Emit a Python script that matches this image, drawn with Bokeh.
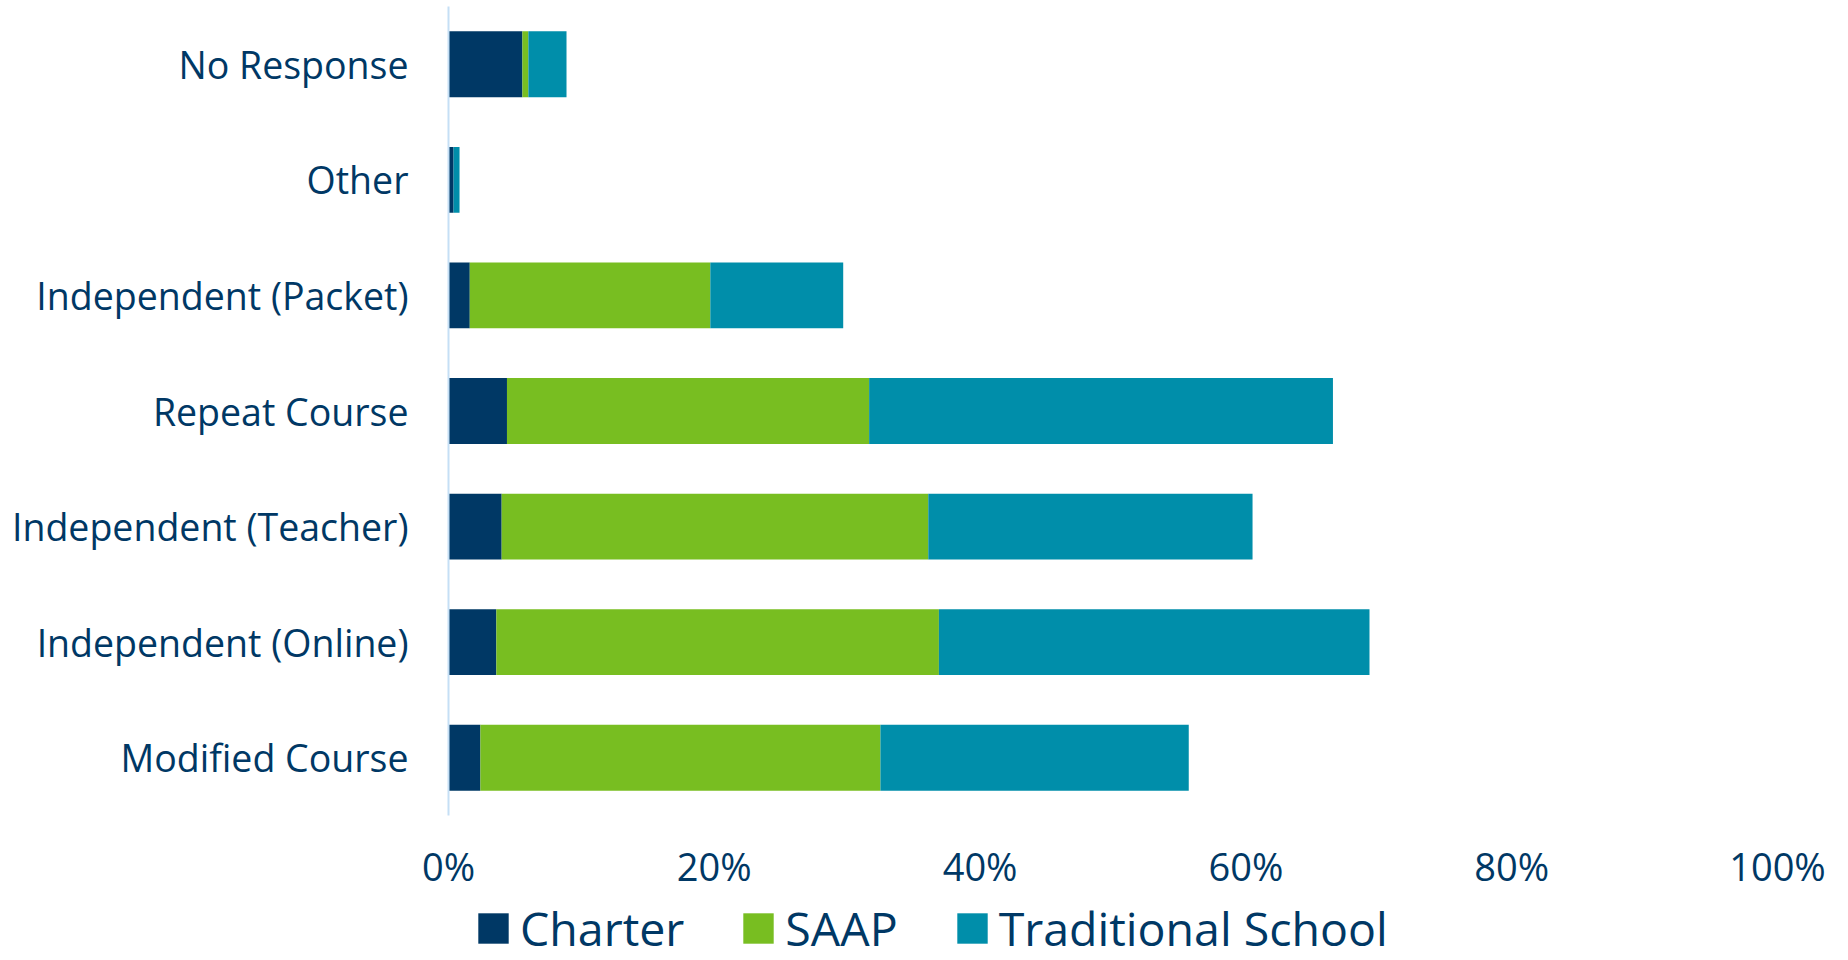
from bokeh.plotting import figure
from bokeh.models import (ColumnDataSource, FactorRange, Range1d, FixedTicker,
                          PrintfTickFormatter, Legend, LegendItem)
from bokeh.layouts import column
from bokeh.embed import file_html
from bokeh.resources import INLINE

# Categories listed bottom-to-top
categories = ["Modified Course", "Independent (Online)", "Independent (Teacher)",
              "Repeat Course", "Independent (Packet)", "Other", "No Response"]
series = ["Charter", "SAAP", "Traditional School"]
charter = [2.4, 3.6, 4.0, 4.4, 1.6, 0.38, 5.56]
saap = [30.1, 33.3, 32.1, 27.25, 18.1, 0.0, 0.45]
traditional = [23.2, 32.4, 24.4, 34.9, 10.0, 0.45, 2.87]
x_ticks = [0, 20, 40, 60, 80, 100]
colors = ["#003865", "#78BE21", "#008EAA"]

TEXT = "#003865"
FONT = "Open Sans"

source = ColumnDataSource(data={
    "cat": categories,
    "Charter": charter,
    "SAAP": saap,
    "Traditional School": traditional,
})

p = figure(width=1848, height=894, output_backend="svg", toolbar_location=None,
           y_range=FactorRange(factors=categories, range_padding=0),
           x_range=Range1d(0, 100),
           min_border_left=448, min_border_right=71, min_border_top=6,
           min_border_bottom=74)

renderers = p.hbar_stack(series, y="cat", height=0.57, color=colors,
                         line_color=None, source=source)

p.xgrid.visible = False
p.ygrid.visible = False
p.outline_line_color = None

xa = p.xaxis[0]
xa.ticker = FixedTicker(ticks=x_ticks)
xa.formatter = PrintfTickFormatter(format="%d%%")
xa.axis_line_color = None
xa.major_tick_line_color = None
xa.minor_tick_line_color = None
xa.major_tick_out = 0
xa.major_label_text_font = FONT
xa.major_label_text_font_size = "38px"
xa.major_label_text_color = TEXT
xa.major_label_standoff = 24

ya = p.yaxis[0]
ya.axis_line_color = "#C5DFF5"
ya.axis_line_width = 2
ya.major_tick_line_color = None
ya.minor_tick_line_color = None
ya.major_tick_out = 0
ya.major_label_text_font = FONT
ya.major_label_text_font_size = "37.5px"
ya.major_label_text_color = TEXT
ya.major_label_standoff = 40

# Legend strip below the chart (its frame is aligned with the chart's frame)
lg = figure(width=1848, height=66, output_backend="svg", toolbar_location=None,
            x_range=Range1d(0, 1), y_range=Range1d(0, 1),
            min_border_left=0, min_border_right=0, min_border_top=0,
            min_border_bottom=0)
lg.axis.visible = False
lg.grid.visible = False
lg.outline_line_color = None
# zero-length proxy bars: they draw nothing, they only give the legend its swatches
proxy = ColumnDataSource(data={"y": [0.5], "left": [0], "right": [0]})
legend_renderers = [lg.hbar(y="y", left="left", right="right", height=0.5,
                            color=c, line_color=None, source=proxy)
                    for c in colors]

legend = Legend(items=[LegendItem(label=s, renderers=[r])
                       for s, r in zip(series, legend_renderers)],
                orientation="horizontal", location=(26, 0),
                label_text_font=FONT, label_text_font_size="46.5px",
                label_text_color=TEXT, glyph_width=38, glyph_height=38,
                label_standoff=8, spacing=55, padding=0, margin=0,
                border_line_color=None, background_fill_alpha=0)
lg.add_layout(legend, "center")

layout = column(p, lg, spacing=0)
open("out.html", "w").write(file_html(layout, INLINE))
